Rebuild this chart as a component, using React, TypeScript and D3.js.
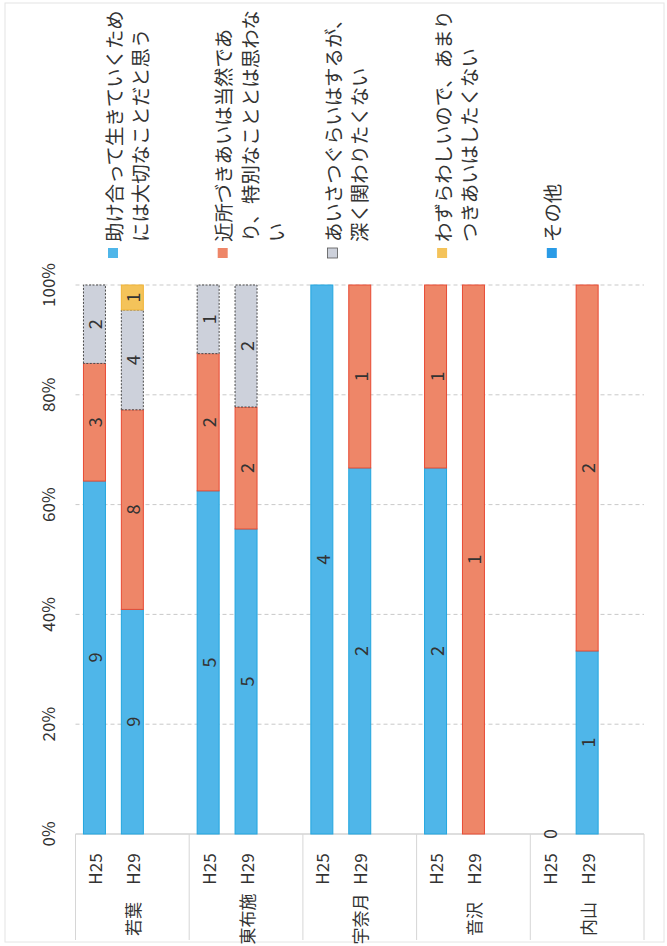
import React from 'react';
import * as d3 from 'd3';

// Districts and survey years (H25 / H29); each district keeps one empty slot after its two bars
const groups = ['若葉', '東布施', '宇奈月', '音沢', '内山'];
const years = ['H25', 'H29'];

// Answer counts, one entry per bar in order:
// 若葉H25, 若葉H29, 東布施H25, 東布施H29, 宇奈月H25, 宇奈月H29, 音沢H25, 音沢H29, 内山H25, 内山H29
const helpEachOther = [9, 9, 5, 5, 4, 2, 2, null, 0, 1];
const naturalThing = [3, 8, 2, 2, null, 1, 1, 1, null, 2];
const greetingOnly = [2, 4, 1, 2, null, null, null, null, null, null];
const bothersome = [null, 1, null, null, null, null, null, null, null, null];
const otherAnswer = [null, null, null, null, null, null, null, null, null, null];

const legendLines = [
  ['助け合って生きていくため', 'には大切なことだと思う'],
  ['近所づきあいは当然であ', 'り、特別なこととは思わな', 'い'],
  ['あいさつぐらいはするが、', '深く関わりたくない'],
  ['わずらわしいので、あまり', 'つきあいはしたくない'],
  ['その他'],
];

const ticks = [0, 0.2, 0.4, 0.6, 0.8, 1];
const tickLabels = ['0%', '20%', '40%', '60%', '80%', '100%'];

const seriesValues = [helpEachOther, naturalThing, greetingOnly, bothersome, otherAnswer];
const fills = ['#4fb6e9', '#ee8668', '#cdd1db', '#f4c35a', '#2a9be6'];
const strokes = ['#22a6df', '#e84a33', '#4a4a4a', '#f0b437', '#1c8fdc'];
const dashes = [null, null, '2,1.5', null, null];

const W = 667;
const H = 946;
const FONT = "'Noto Sans CJK JP', 'Noto Sans', sans-serif";
const TEXT = '#333';

export default function App() {
  // The chart is laid out as a horizontal bar chart in a 946 x 667 frame,
  // then turned a quarter turn counter-clockwise onto the page.
  const slotKeys = groups.flatMap((g) => [...years.map((yr) => `${g}|${yr}`), `${g}|`]);
  const barKeys = groups.flatMap((g) => years.map((yr) => `${g}|${yr}`));

  const y = d3
    .scaleBand<string>()
    .domain(slotKeys)
    .range([75.5, 644])
    .paddingInner(0.42)
    .paddingOuter(0.21);
  const x = d3.scaleLinear().domain([0, 1]).range([112, 661]);
  const step = y.step();
  const bw = y.bandwidth();

  const bars = barKeys.map((key, i) => {
    const vals = seriesValues.map((s) => s[i]);
    const total = d3.sum(vals.map((v) => v ?? 0));
    let acc = 0;
    const segs: { s: number; v: number; x0: number; x1: number }[] = [];
    vals.forEach((v, s) => {
      if (v == null) return;
      if (total === 0) {
        segs.push({ s, v, x0: 0, x1: 0 });
        return;
      }
      const x0 = acc / total;
      acc += v;
      segs.push({ s, v, x0, x1: acc / total });
    });
    return { key, segs };
  });

  const groupBounds = d3.range(groups.length + 1).map((k) => 75.5 + k * 3 * step);

  return (
    <svg
      width={W}
      height={H}
      style={{ position: 'absolute', left: 0, top: 0, background: '#fff' }}
      fontFamily={FONT}
    >
      <rect x={0} y={0} width={W} height={H} fill="#fff" />
      <rect x={5} y={3} width={W - 8} height={H - 7} fill="none" stroke="#e4e4e4" strokeWidth={1} />
      <g transform={`translate(0,${H}) rotate(-90)`}>
        {/* value gridlines */}
        {ticks.slice(1).map((t) => (
          <line
            key={t}
            x1={x(t)}
            x2={x(t)}
            y1={75.5}
            y2={644}
            stroke="#c9c9c9"
            strokeWidth={1}
            strokeDasharray="4,3"
          />
        ))}
        {/* value tick labels */}
        {ticks.map((t, i) => (
          <text
            key={t}
            x={x(t)}
            y={47}
            textAnchor="middle"
            dominantBaseline="central"
            fontSize={17}
            fill={TEXT}
          >
            {tickLabels[i]}
          </text>
        ))}
        {/* category axis */}
        <line x1={x(0)} x2={x(0)} y1={75.5} y2={644} stroke="#bdbdbd" strokeWidth={1} />
        {groupBounds.map((b, k) => (
          <line key={k} x1={x(0)} x2={6} y1={b} y2={b} stroke="#d6d6d6" strokeWidth={1} />
        ))}
        {barKeys.map((key) => {
          const yr = key.split('|')[1];
          return (
            <text
              key={key}
              x={77}
              y={(y(key) ?? 0) + bw / 2}
              textAnchor="middle"
              dominantBaseline="central"
              fontSize={17}
              fill={TEXT}
            >
              {yr}
            </text>
          );
        })}
        {groups.map((g, k) => (
          <text
            key={g}
            x={27}
            y={(groupBounds[k] + groupBounds[k + 1]) / 2}
            textAnchor="middle"
            dominantBaseline="central"
            fontSize={17}
            fill={TEXT}
          >
            {g}
          </text>
        ))}
        {/* stacked bars */}
        {bars.map((b) =>
          b.segs
            .filter((sg) => sg.x1 > sg.x0)
            .map((sg) => (
              <rect
                key={`${b.key}-${sg.s}`}
                x={x(sg.x0)}
                y={y(b.key)}
                width={x(sg.x1) - x(sg.x0)}
                height={bw}
                fill={fills[sg.s]}
                stroke={strokes[sg.s]}
                strokeWidth={1}
                strokeDasharray={dashes[sg.s] ?? undefined}
              />
            ))
        )}
        {/* data labels */}
        {bars.map((b) =>
          b.segs.map((sg) => (
            <text
              key={`l-${b.key}-${sg.s}`}
              x={x((sg.x0 + sg.x1) / 2)}
              y={(y(b.key) ?? 0) + bw / 2}
              textAnchor="middle"
              dominantBaseline="central"
              fontSize={18}
              fill={TEXT}
            >
              {sg.v}
            </text>
          ))
        )}
        {/* legend */}
        {legendLines.map((lines, i) => {
          const y0 = 113 + i * 109.7;
          return (
            <g key={i}>
              <rect
                x={688}
                y={y0 - 5}
                width={10}
                height={10}
                fill={fills[i]}
                stroke={i === 2 ? '#555' : 'none'}
                strokeWidth={0.8}
              />
              {lines.map((ln, j) => (
                <text
                  key={j}
                  x={704}
                  y={y0 + j * 26.5}
                  dominantBaseline="central"
                  fontSize={19.4}
                  fill={TEXT}
                >
                  {ln}
                </text>
              ))}
            </g>
          );
        })}
      </g>
    </svg>
  );
}
